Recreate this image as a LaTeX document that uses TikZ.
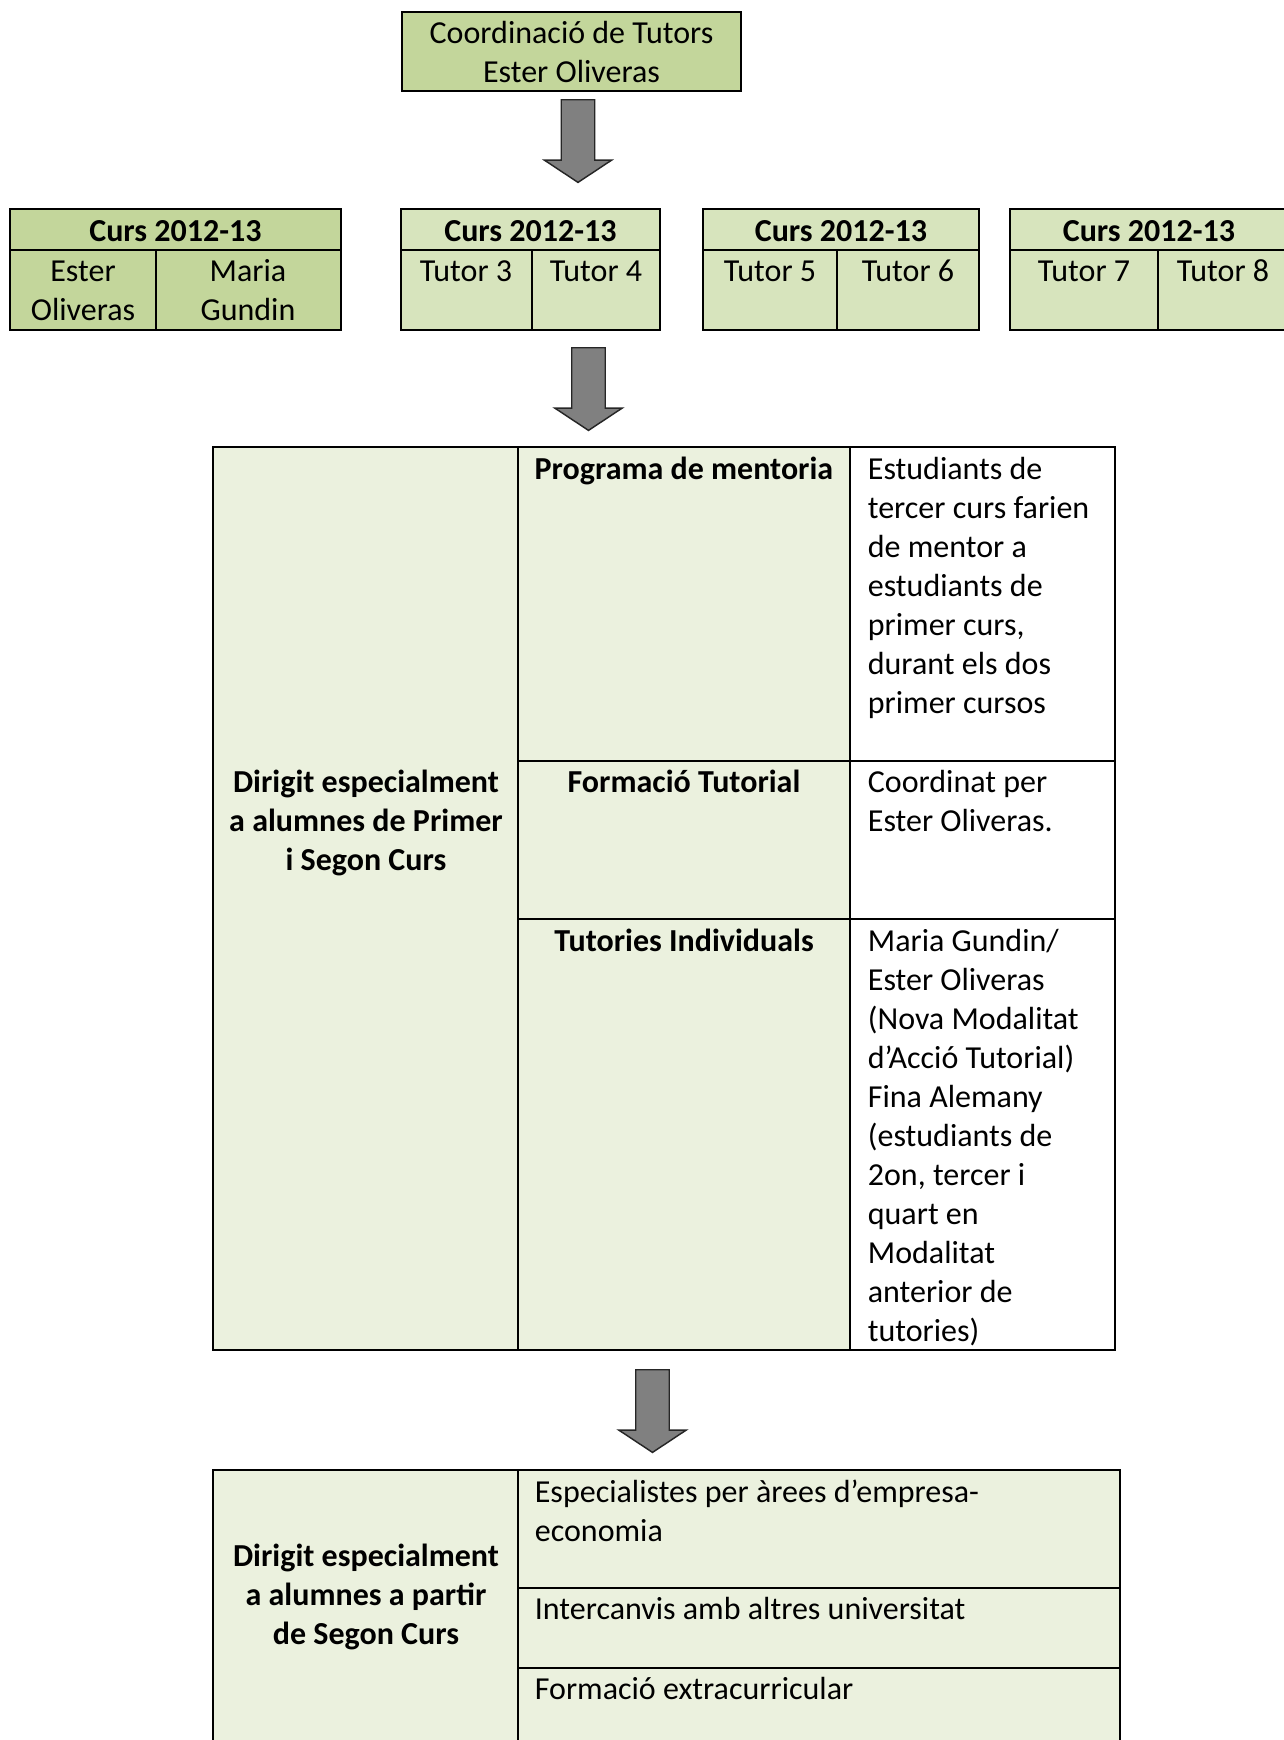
\documentclass[tikz,border=0pt]{standalone}
\usepackage{fontspec}
\setmainfont{Carlito}
\usepackage{tikz}
\usetikzlibrary{shapes.arrows}
\definecolor{olive400}{HTML}{C3D69B}
\definecolor{olive300}{HTML}{D7E4BD}
\definecolor{olive100}{HTML}{EBF1DE}
\definecolor{gray500}{HTML}{808080}
\definecolor{gray800}{HTML}{262626}
\tikzstyle{caixa}=[rectangle, draw=black, inner sep=0pt, font=\fontsize{11}{13.4}\selectfont, align=center]
\tikzstyle{fletxa}=[single arrow, draw=gray800, fill=gray500, line width=0.5pt, rotate=-90, anchor=tail, minimum height=28.4pt, minimum width=22.7pt, single arrow head extend=5.85pt, single arrow tip angle=113, inner xsep=0pt, inner ysep=5.5pt]
\tikzstyle{txt}=[inner sep=0pt, anchor=base, font=\fontsize{11}{13.4}\selectfont]
\tikzstyle{txtb}=[txt, font=\fontsize{11}{13.4}\selectfont\bfseries]

\begin{document}
\begin{tikzpicture}[x=0.3436pt, y=-0.3436pt, line width=0.6pt]
			\useasboundingbox (0,0) rectangle (1284,1740);
			\clip (0,0) rectangle (1284,1740);
			\node[caixa, fill=olive400, minimum width=116.5pt, minimum height=27.1pt] (coord) at (571.5,51.5) {Coordinació de Tutors\\Ester Oliveras};
			\node[fletxa] (arr1) at (578,99) {};
			% cursos
			\path[draw=black, fill=olive400] (10,209) rectangle (341,330);
			\path[draw=black, fill=olive300] (401,209) rectangle (660,330) (703,209) rectangle (979,330) (1010,209) rectangle (1288,330);
			\path[draw=black] (10,250)--(341,250) (401,250)--(660,250) (703,250)--(979,250) (1010,250)--(1288,250);
			\path[draw=black] (156,250)--(156,330) (532,250)--(532,330) (837,250)--(837,330) (1158,250)--(1158,330);
			\node[txtb] (curs1) at (175.5,241) {Curs 2012-13};
			\node[txtb] (curs2) at (530.5,241) {Curs 2012-13};
			\node[txtb] (curs3) at (841,241) {Curs 2012-13};
			\node[txtb] (curs4) at (1149,241) {Curs 2012-13};
			\node[txt, text width=48pt, align=flush center] (ester) at (83,281) {Ester\\Oliveras};
			\node[txt, text width=56pt, align=flush center] (maria) at (248,281) {Maria\\Gundin};
			\node[txt] (tutor3) at (466,281) {Tutor 3};
			\node[txt] (tutor4) at (596,281) {Tutor 4};
			\node[txt] (tutor5) at (770,281) {Tutor 5};
			\node[txt] (tutor6) at (908,281) {Tutor 6};
			\node[txt] (tutor7) at (1084,281) {Tutor 7};
			\node[txt] (tutor8) at (1223,281) {Tutor 8};
			\node[fletxa] (arr2) at (588.5,347) {};
			% primer i segon curs
			\path[draw=black, fill=olive100] (213,447) rectangle (850,1350);
			\path[draw=black, fill=white] (850,447) rectangle (1115,1350);
			\path[draw=black] (518,447)--(518,1350) (518,761)--(1115,761) (518,919)--(1115,919);
			\node[txtb, text width=104pt, align=flush center] (primer) at (366,792) {Dirigit especialment\\a alumnes de Primer\\i Segon Curs};
			\node[txtb] (mentoria) at (684,479) {Programa de mentoria};
			\node[txtb] (formacio) at (684,792) {Formació Tutorial};
			\node[txtb] (individuals) at (684,951) {Tutories Individuals};
			\node[txt, anchor=base west, text width=88pt, align=flush left] (mentors) at (867,479) {Estudiants de\\tercer curs farien\\de mentor a\\estudiants de\\primer curs,\\durant els dos\\primer cursos};
			\node[txt, anchor=base west, text width=88pt, align=flush left] (coordinat) at (867,792) {Coordinat per\\Ester Oliveras.};
			\node[txt, anchor=base west, text width=88pt, align=flush left] (tutors) at (867,951) {Maria Gundin/\\Ester Oliveras\\(Nova Modalitat\\d’Acció Tutorial)\\Fina Alemany\\(estudiants de\\2on, tercer i\\quart en\\Modalitat\\anterior de\\tutories)};
			\node[fletxa] (arr3) at (652.5,1369) {};
			% a partir de segon curs
			\path[draw=black, fill=olive100] (213,1470) rectangle (1120,1760);
			\path[draw=black] (518,1470)--(518,1760) (518,1588)--(1120,1588) (518,1668)--(1120,1668);
			\node[txtb, text width=104pt, align=flush center] (segon) at (366,1566) {Dirigit especialment\\a alumnes a partir\\de Segon Curs};
			\node[txt, anchor=base west, text width=200pt, align=flush left] (especialistes) at (534,1502) {Especialistes per àrees d’empresa-\\economia};
			\node[txt, anchor=base west] (intercanvis) at (534,1619) {Intercanvis amb altres universitat};
			\node[txt, anchor=base west] (extra) at (534,1699) {Formació extracurricular};
		\end{tikzpicture}
\end{document}
